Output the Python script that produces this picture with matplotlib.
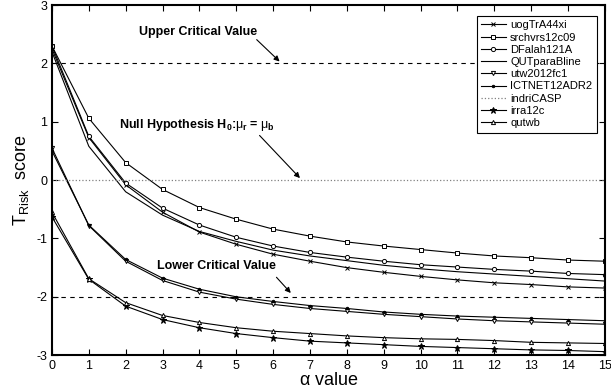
import matplotlib
matplotlib.use('Agg')
import matplotlib.pyplot as plt

plt.rcParams['font.family'] = ['Liberation Sans', 'DejaVu Sans']
plt.rcParams['mathtext.fontset'] = 'custom'
plt.rcParams['mathtext.rm'] = 'Liberation Sans'
plt.rcParams['mathtext.it'] = 'Liberation Sans'
plt.rcParams['mathtext.bf'] = 'Liberation Sans:bold'
plt.rcParams['axes.unicode_minus'] = False

alpha = list(range(16))

uogTrA44xi = [2.25, 0.73, -0.08, -0.55, -0.89, -1.10, -1.27, -1.39, -1.50, -1.58,
              -1.65, -1.71, -1.76, -1.79, -1.83, -1.85]
srchvrs12c09 = [2.30, 1.06, 0.30, -0.16, -0.47, -0.67, -0.84, -0.96, -1.06, -1.13,
                -1.19, -1.25, -1.30, -1.33, -1.37, -1.39]
DFalah121A = [2.30, 0.75, -0.05, -0.48, -0.77, -0.98, -1.13, -1.24, -1.32, -1.39,
              -1.45, -1.49, -1.53, -1.56, -1.60, -1.62]
QUTparaBline = [2.20, 0.58, -0.20, -0.60, -0.88, -1.05, -1.20, -1.30, -1.38, -1.46,
                -1.52, -1.57, -1.61, -1.65, -1.69, -1.73]
utw2012fc1 = [0.55, -0.78, -1.39, -1.72, -1.92, -2.04, -2.13, -2.20, -2.25, -2.30,
              -2.34, -2.38, -2.41, -2.43, -2.45, -2.47]
ICTNET12ADR2 = [0.50, -0.77, -1.36, -1.68, -1.87, -2.00, -2.08, -2.15, -2.20, -2.26,
                -2.30, -2.33, -2.35, -2.37, -2.39, -2.41]
indriCASP = [0.0] * 16
irra12c = [-0.63, -1.70, -2.16, -2.39, -2.53, -2.63, -2.70, -2.76, -2.79, -2.82,
           -2.85, -2.87, -2.89, -2.91, -2.92, -2.94]
qutwb = [-0.55, -1.69, -2.10, -2.32, -2.44, -2.53, -2.59, -2.63, -2.67, -2.70,
         -2.72, -2.73, -2.75, -2.78, -2.79, -2.80]

runs = [
    ('uogTrA44xi', uogTrA44xi, 'x', '-'),
    ('srchvrs12c09', srchvrs12c09, 's', '-'),
    ('DFalah121A', DFalah121A, 'o', '-'),
    ('QUTparaBline', QUTparaBline, None, '-'),
    ('utw2012fc1', utw2012fc1, 'v', '-'),
    ('ICTNET12ADR2', ICTNET12ADR2, '.', '-'),
    ('indriCASP', indriCASP, None, ':'),
    ('irra12c', irra12c, '*', '-'),
    ('qutwb', qutwb, '^', '-'),
]

fig = plt.figure(figsize=(6.11, 3.89), dpi=100)
ax = fig.add_axes([0.085, 0.087, 0.905, 0.9])

ax.axhline(2, color='black', linestyle=(0, (4, 4)), linewidth=0.8)
ax.axhline(-2, color='black', linestyle=(0, (4, 4)), linewidth=0.8)

for name, vals, mk, ls in runs:
    if ls == ':':
        ax.plot(alpha, vals, linestyle=':', color='gray', linewidth=0.9, label=name)
        continue
    filled = mk in ('*', '.')
    size = {'*': 4.5, '.': 3.5, 'x': 3, None: 0}.get(mk, 3)
    ax.plot(alpha, vals, linestyle=ls, color='black', linewidth=0.8,
            marker=mk, markersize=size,
            markerfacecolor='black' if filled else 'white',
            markeredgecolor='black', markeredgewidth=0.7, label=name)

ax.set_xlim(0, 15)
ax.set_ylim(-3, 3)
ax.set_xticks(range(16))
ax.set_yticks(range(-3, 4))
ax.tick_params(direction='in', top=True, right=True, labelsize=9, length=4, width=0.8)
for sp in ax.spines.values():
    sp.set_linewidth(1.5)

ax.set_xlabel(r'$\alpha$ value', fontsize=13, labelpad=0)
ax.set_ylabel(r'T$_{\mathrm{Risk}}$  score', fontsize=13, labelpad=4)

arrow = dict(arrowstyle='-|>', color='black', linewidth=0.8, mutation_scale=8)
ax.text(3.96, 2.54, 'Upper Critical Value', ha='center', va='center',
        fontsize=9, fontweight='bold')
ax.annotate('', xy=(6.23, 2.0), xytext=(5.5, 2.44), arrowprops=arrow)
ax.text(3.93, 0.94, r'Null Hypothesis H$_\mathbf{0}$:$\mu_\mathbf{r}$ = $\mu_\mathbf{b}$',
        ha='center', va='center', fontsize=9, fontweight='bold')
ax.annotate('', xy=(6.78, 0.0), xytext=(5.58, 0.8), arrowprops=arrow)
ax.text(4.45, -1.47, 'Lower Critical Value', ha='center', va='center',
        fontsize=9, fontweight='bold')
ax.annotate('', xy=(6.53, -1.97), xytext=(6.04, -1.63), arrowprops=arrow)

leg = ax.legend(loc='upper right', fontsize=8, handlelength=2.2, handletextpad=0.4,
                borderpad=0.4, labelspacing=0.2, fancybox=False, framealpha=1,
                edgecolor='black', bbox_to_anchor=(0.995, 0.985))
leg.get_frame().set_linewidth(0.8)

fig.savefig('out.png', dpi=100)
